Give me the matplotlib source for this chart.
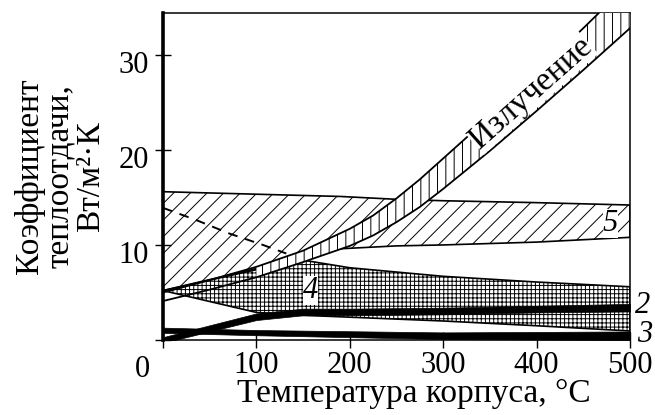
import numpy as np
import matplotlib.pyplot as plt
from matplotlib.transforms import ScaledTranslation

plt.rcParams['font.family'] = ['Liberation Serif', 'DejaVu Serif']
plt.rcParams['hatch.linewidth'] = 0.7

# Radiation band (lower / upper bound), W/m2K vs. case temperature, C
temp_rad = [0, 50, 100, 150, 200, 225, 250, 275, 300, 350, 400, 450, 500]
rad_low = [4.1, 5.3, 6.6, 8.2, 9.9, 11.0, 12.4, 14.0, 15.9, 19.9, 24.1, 28.4, 32.8]
rad_high = [5.0, 6.3, 7.7, 9.4, 11.7, 13.1, 14.9, 16.9, 19.1, 23.5, 28.1, 32.8, 37.6]

# Band 5
temp_5 = [0, 190, 250, 300, 400, 500]
band5_low = [5.2, 9.6, 9.9, 10.0, 10.3, 10.8]
band5_high = [15.6, 15.1, 14.8, 14.65, 14.45, 14.2]

# dashed curve inside band 5
temp_dash = [0, 36, 71, 107, 132]
dash_vals = [13.9, 12.6, 11.2, 10.0, 9.1]

# Band 4
temp_4 = [0, 100, 150, 200, 300, 400, 500]
band4_low = [5.2, 2.9, 2.6, 2.4, 2.0, 1.5, 0.95]
band4_high = [5.2, 7.4, 8.4, 7.6, 6.7, 6.1, 5.6]

# Curves 2 and 3 (drawn as narrow black strips)
temp_2 = [0, 100, 150, 200, 300, 400, 500]
line2_low = [-0.3, 2.1, 2.6, 2.6, 2.7, 2.9, 3.0]
line2_high = [0.3, 2.8, 3.3, 3.3, 3.4, 3.6, 3.8]

temp_3 = [0, 100, 300, 500]
line3_low = [0.75, 0.5, 0.1, 0.0]
line3_high = [1.3, 1.05, 0.8, 0.9]

xticks = [0, 100, 200, 300, 400, 500]
xtick_labels = ['', '100', '200', '300', '400', '500']
yticks = [0, 10, 20, 30]
ytick_labels = ['', '10', '20', '30']

fig = plt.figure(figsize=(6.55, 4.15), dpi=100)
ax = fig.add_axes([0.2489, 0.1807, 0.7129, 0.788])

ax.fill_between(temp_4, band4_low, band4_high, facecolor='none',
                edgecolor='black', hatch='++++', linewidth=1.2, zorder=1)
ax.fill_between(temp_5, band5_low, band5_high, facecolor='none',
                edgecolor='black', hatch='//', linewidth=1.2, zorder=1.5)
ax.plot(temp_dash, dash_vals, color='black', lw=1.4, ls=(0, (5, 4)), zorder=2)

tr = np.array(temp_rad)
ax.fill_between(temp_rad, rad_low, rad_high, where=tr >= 100, facecolor='white',
                edgecolor='black', hatch='||', linewidth=0, zorder=3)
ax.plot(temp_rad, rad_low, color='black', lw=1.3, zorder=3.1)
ax.plot(temp_rad, rad_high, color='black', lw=1.3, zorder=3.1)

ax.fill_between(temp_2, line2_low, line2_high, color='black', lw=0.5, zorder=4)
ax.fill_between(temp_3, line3_low, line3_high, color='black', lw=0.5, zorder=4)

fs = 22
fl = 24
ax.text(394, 26, 'Излучение', rotation=41.5, fontsize=fl, ha='center', va='center',
        zorder=5, bbox=dict(facecolor='white', edgecolor='none', pad=0))
ax.text(158, 5.2, '4', fontsize=fs, style='italic', ha='center', va='center', zorder=5,
        bbox=dict(facecolor='white', edgecolor='none', pad=0))
ax.text(479, 12.3, '5', fontsize=fs, style='italic', ha='center', va='center', zorder=5,
        bbox=dict(facecolor='white', edgecolor='none', pad=0))
ax.text(514, 3.6, '2', fontsize=fs, style='italic', ha='center', va='center')
ax.text(516, 0.6, '3', fontsize=fs, style='italic', ha='center', va='center')
ax.text(-0.045, -0.09, '0', transform=ax.transAxes, fontsize=fs,
        ha='center', va='center')

ax.set_xlim(0, 500)
ax.set_ylim(0, 34.4)
ax.set_xticks(xticks)
ax.set_xticklabels(xtick_labels)
ax.set_yticks(yticks)
ax.set_yticklabels(ytick_labels)
ax.tick_params(direction='inout', length=12, width=1, labelsize=fs, pad=2)
ax.tick_params(axis='y', pad=4)
shift = ScaledTranslation(0, -7 / 100, fig.dpi_scale_trans)
for lab in ax.get_yticklabels():
    lab.set_transform(lab.get_transform() + shift)

for side in ['top', 'right', 'bottom']:
    ax.spines[side].set_linewidth(1.1)
ax.spines['left'].set_linewidth(2.6)

ax.set_xlabel('Температура корпуса, °С', fontsize=fl, va='center')
ax.xaxis.set_label_coords(0.537, -0.165)
ax.set_ylabel('Коэффициент\nтеплоотдачи,\nВт/м²·К', fontsize=fl,
              va='center', ha='center', linespacing=1.0)
ax.yaxis.set_label_coords(-0.221, 0.5)

fig.savefig('out.png', dpi=100)
